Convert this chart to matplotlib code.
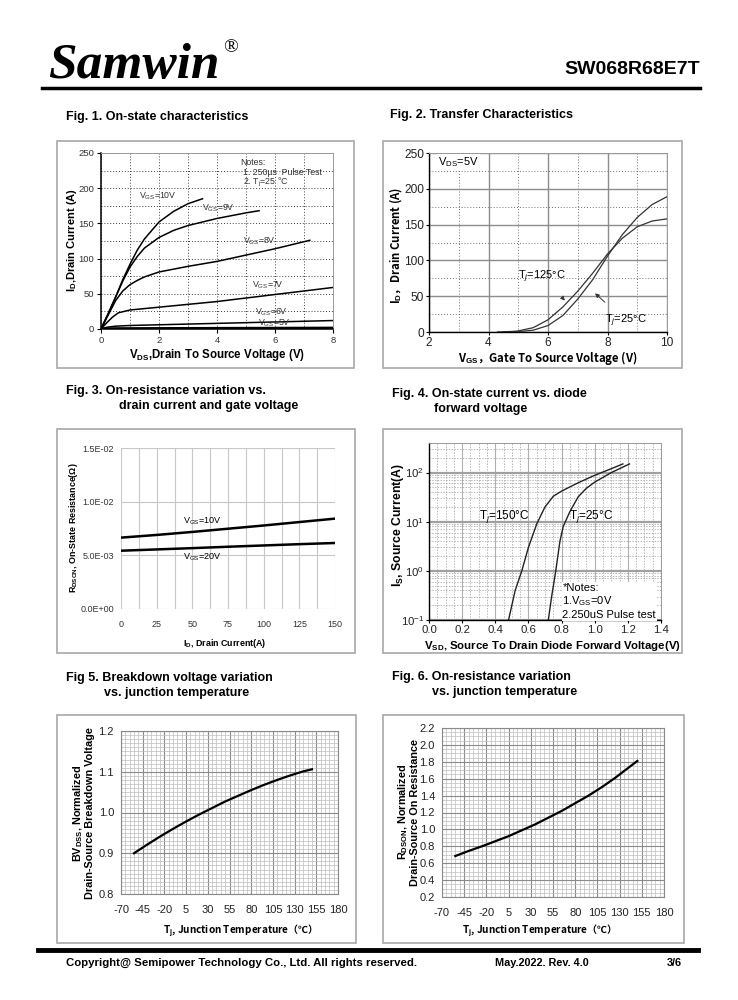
import matplotlib
matplotlib.use("Agg")
import matplotlib.pyplot as plt
from matplotlib.patches import Rectangle
from matplotlib.ticker import MultipleLocator, LogLocator, NullFormatter

plt.rcParams['font.family'] = ['Liberation Sans', 'DejaVu Sans']
plt.rcParams['mathtext.fontset'] = 'custom'
plt.rcParams['mathtext.rm'] = 'Liberation Sans'
plt.rcParams['mathtext.it'] = 'Liberation Sans:italic'
plt.rcParams['mathtext.bf'] = 'Liberation Sans:bold'
plt.rcParams['axes.unicode_minus'] = False

# ---- Fig 1 data: on-state characteristics
vds_10 = [0, 0.25, 0.5, 0.75, 1.0, 1.25, 1.5, 2.0, 2.5, 3.0, 3.5]
id_10 = [0, 22, 45, 70, 92, 112, 128, 152, 167, 178, 185]
vds_9 = [0, 0.25, 0.5, 0.75, 1.0, 1.25, 1.5, 2.0, 2.5, 3.0, 3.5, 4.0, 4.5, 5.0, 5.45]
id_9 = [0, 22, 45, 68, 88, 103, 115, 130, 140, 147, 152, 157, 161, 165, 168]
vds_8 = [0, 0.25, 0.5, 0.75, 1.0, 1.25, 1.5, 2.0, 2.5, 3.0, 4.0, 5.0, 6.0, 7.2]
id_8 = [0, 20, 40, 54, 63, 69, 74, 81, 85, 89, 96, 105, 114, 126]
vds_7 = [0, 0.2, 0.4, 0.6, 0.8, 1.0, 2.0, 3.0, 4.0, 5.0, 6.0, 7.0, 8.0]
id_7 = [0, 9, 17, 23, 25, 27, 31, 35, 39, 44, 49, 54, 59]
vds_6 = [0, 0.2, 0.5, 1, 2, 4, 6, 8]
id_6 = [0, 2.5, 4, 5, 6, 8, 10, 12]
vds_5 = [0, 0.5, 2, 4, 6, 8]
id_5 = [0, 0.4, 0.6, 0.8, 1.0, 1.2]

# ---- Fig 2 data: transfer characteristics
vgs_125 = [4.3, 4.8, 5.0, 5.5, 6.0, 6.5, 7.0, 7.5, 8.0, 8.5, 9.0, 9.5, 10.0]
id_125 = [0, 0.8, 1.5, 6, 17, 35, 57, 82, 109, 131, 147, 155, 158]
vgs_25 = [4.5, 5.0, 5.5, 6.0, 6.5, 7.0, 7.5, 8.0, 8.5, 9.0, 9.5, 10.0]
id_25 = [0, 0.5, 2.5, 9, 23, 46, 73, 106, 136, 160, 178, 189]

# ---- Fig 3 data: on-resistance vs drain current
id_r = [0, 25, 50, 75, 100, 125, 150]
r_10 = [0.00665, 0.00690, 0.00718, 0.00748, 0.00778, 0.00810, 0.00842]
r_20 = [0.00543, 0.00555, 0.00567, 0.00580, 0.00592, 0.00604, 0.00615]

# ---- Fig 4 data: diode forward characteristics
vsd_150 = [0.48, 0.52, 0.56, 0.60, 0.65, 0.70, 0.75, 0.80, 0.90, 1.00, 1.10, 1.17]
is_150 = [0.1, 0.4, 1.0, 3.0, 9, 20, 33, 42, 62, 88, 120, 150]
vsd_25 = [0.72, 0.74, 0.765, 0.79, 0.81, 0.85, 0.90, 0.95, 1.00, 1.10, 1.21]
is_25 = [0.1, 0.3, 1.0, 4, 8, 16, 32, 48, 64, 100, 150]

# ---- Fig 5 / 6 data: normalized vs junction temperature
tj = [-55, -40, -25, -10, 5, 20, 35, 50, 65, 80, 95, 110, 125, 140, 150]
bv_norm = [0.900, 0.921, 0.941, 0.960, 0.978, 0.995, 1.011, 1.027, 1.041,
           1.055, 1.068, 1.080, 1.091, 1.101, 1.106]
rds_norm = [0.685, 0.745, 0.80, 0.86, 0.92, 0.99, 1.06, 1.14, 1.22,
            1.31, 1.40, 1.50, 1.61, 1.73, 1.81]
temp_ticks = [-70, -45, -20, 5, 30, 55, 80, 105, 130, 155, 180]

W, H = 738, 1000
fig = plt.figure(figsize=(7.38, 10), dpi=100)


def px_ax(l, t, r, b):
    return fig.add_axes([l / W, 1 - b / H, (r - l) / W, (b - t) / H])


def px_text(x, y, s, **kw):
    fig.text(x / W, 1 - y / H, s, **kw)


def box(l, t, r, b):
    fig.patches.append(Rectangle((l / W, 1 - b / H), (r - l) / W, (b - t) / H,
                                 transform=fig.transFigure, fill=False,
                                 ec='#a8a8a8', lw=1.2))


def hline(x0, x1, y, lw):
    fig.add_artist(plt.Line2D([x0 / W, x1 / W], [1 - y / H, 1 - y / H],
                              transform=fig.transFigure, color='black', lw=lw))


# header / footer
px_text(48, 78, 'Samwin', family='Liberation Serif', weight='bold',
        style='italic', fontsize=37, va='baseline')
px_text(223, 52, '®', family='Liberation Serif', fontsize=14, va='baseline')
px_text(700, 74, 'SW068R68E7T', weight='bold', fontsize=14, ha='right',
        va='baseline')
hline(42, 700, 88, 2.5)
hline(38, 698, 950, 3.5)
px_text(66, 966, 'Copyright@ Semipower Technology Co., Ltd. All rights reserved.',
        weight='bold', fontsize=8.2, va='baseline')
px_text(495, 966, 'May.2022. Rev. 4.0', weight='bold', fontsize=7.8, va='baseline')
px_text(682, 966, '3/6', weight='bold', fontsize=7.8, va='baseline', ha='right')

# titles
tkw = dict(weight='bold', fontsize=9, va='baseline')
px_text(66, 120, 'Fig. 1. On-state characteristics', **tkw)
px_text(390, 118, 'Fig. 2. Transfer Characteristics', **tkw)
px_text(66, 394, 'Fig. 3. On-resistance variation vs.', **tkw)
px_text(119, 409, 'drain current and gate voltage', **tkw)
px_text(392, 397, 'Fig. 4. On-state current vs. diode', **tkw)
px_text(434, 412, 'forward voltage', **tkw)
px_text(66, 681, 'Fig 5. Breakdown voltage variation', **tkw)
px_text(104, 696, 'vs. junction temperature', **tkw)
px_text(392, 680, 'Fig. 6. On-resistance variation', **tkw)
px_text(432, 695, 'vs. junction temperature', **tkw)

# panel frames
box(57, 141, 354, 368)
box(383, 141, 682, 368)
box(57, 429, 355, 653)
box(383, 429, 682, 653)
box(57, 715, 356, 943)
box(383, 715, 684, 943)


def style_spines(ax, dark=('left', 'bottom'), lw=1.0):
    for s in ax.spines:
        if s in dark:
            ax.spines[s].set_color('black')
            ax.spines[s].set_linewidth(lw)
        else:
            ax.spines[s].set_color('#9a9a9a')
            ax.spines[s].set_linewidth(0.7)


# ---------------- Fig 1
ax1 = px_ax(101, 153, 333, 329)
for v, i in [(vds_10, id_10), (vds_9, id_9), (vds_8, id_8), (vds_7, id_7),
             (vds_6, id_6), (vds_5, id_5)]:
    ax1.plot(v, i, color='black', lw=1.1)
ax1.plot(vds_5, id_5, color='black', lw=2.2)
ax1.set_xlim(0, 8)
ax1.set_ylim(0, 250)
ax1.xaxis.set_major_locator(MultipleLocator(2))
ax1.xaxis.set_minor_locator(MultipleLocator(1))
ax1.yaxis.set_major_locator(MultipleLocator(50))
ax1.yaxis.set_minor_locator(MultipleLocator(25))
ax1.grid(which='both', ls=(0, (1, 2)), color='#404040', lw=0.7)
ax1.tick_params(which='minor', length=0)
ax1.tick_params(which='major', length=3, labelsize=6.8, labelcolor='#333333', pad=2)
style_spines(ax1, lw=1.1)
lkw = dict(fontsize=6.3, color='#333333', ha='left', va='center')
ax1.text(1.3, 188, r'V$_{\mathrm{GS}}$=10V', **lkw)
ax1.text(3.5, 172, r'V$_{\mathrm{GS}}$=9V', **lkw)
ax1.text(4.9, 125, r'V$_{\mathrm{GS}}$=8V', **lkw)
ax1.text(5.2, 62, r'V$_{\mathrm{GS}}$=7V', **lkw)
ax1.text(5.3, 24, r'V$_{\mathrm{GS}}$=6V', **lkw)
ax1.text(5.4, 8, r'V$_{\mathrm{GS}}$=5V', **lkw)
ax1.text(4.8, 236, 'Notes:', **lkw)
ax1.text(4.9, 222, '1. 250µs  Pulse Test', **lkw)
ax1.text(4.9, 208, r'2. T$_{\mathrm{j}}$=25 °C', **lkw)
px_text(72, 240, r'I$_{\mathbf{D}}$,Drain Current (A)', weight='bold', fontsize=8,
        rotation=90, ha='center', va='center')
px_text(217, 355, r'V$_{\mathbf{DS}}$,Drain To Source Voltage (V)', weight='bold',
        fontsize=8.3, ha='center', va='center')

# ---------------- Fig 2
ax2 = px_ax(429, 153, 667, 332)
ax2.plot(vgs_125, id_125, color='#333333', lw=0.9)
ax2.plot(vgs_25, id_25, color='#333333', lw=0.9)
ax2.set_xlim(2, 10)
ax2.set_ylim(0, 250)
ax2.xaxis.set_major_locator(MultipleLocator(2))
ax2.xaxis.set_minor_locator(MultipleLocator(1))
ax2.yaxis.set_major_locator(MultipleLocator(50))
ax2.yaxis.set_minor_locator(MultipleLocator(25))
ax2.grid(which='major', ls='-', color='#8c8c8c', lw=1.0)
ax2.grid(which='minor', ls=(0, (1, 2)), color='#707070', lw=0.7)
ax2.tick_params(which='minor', length=0)
ax2.tick_params(which='major', length=2.5, labelsize=8.6, labelcolor='#222222', pad=1)
style_spines(ax2, lw=1.0)
ax2.text(2.3, 237, r'V$_{\mathrm{DS}}$=5V', fontsize=8, ha='left', va='center',
         bbox=dict(fc='white', ec='none', pad=1))
ax2.annotate(r'T$_{\mathit{j}}$=125°C', xy=(6.57, 44), xytext=(5.0, 77),
             fontsize=8, ha='left', va='center',
             arrowprops=dict(arrowstyle='-|>', color='#333333', lw=0.7,
                             mutation_scale=6, shrinkA=10, shrinkB=0))
ax2.annotate(r'T$_{\mathit{j}}$=25°C', xy=(7.58, 54), xytext=(7.9, 16),
             fontsize=8, ha='left', va='center',
             arrowprops=dict(arrowstyle='-|>', color='#333333', lw=0.7,
                             mutation_scale=6, shrinkA=8, shrinkB=0))
fcjk = ['Noto Sans CJK SC', 'DejaVu Sans']
px_text(396, 245, r'I$_{\mathbf{D}}$，Drain Current (A)', family=fcjk, weight='bold',
        fontsize=8.2, rotation=90, ha='center', va='center')
px_text(548, 358, r'V$_{\mathbf{GS}}$，Gate To Source Voltage (V)', family=fcjk,
        weight='bold', fontsize=8.2, ha='center', va='center')

# ---------------- Fig 3
ax3 = px_ax(121, 448, 335, 609)
ax3.plot(id_r, r_10, color='black', lw=1.8)
ax3.plot(id_r, r_20, color='black', lw=1.8)
ax3.set_xlim(0, 150)
ax3.set_ylim(0, 0.015)
ax3.set_xticks([0, 25, 50, 75, 100, 125, 150])
ax3.xaxis.set_minor_locator(MultipleLocator(12.5))
ax3.set_yticks([0, 0.005, 0.01, 0.015])
ax3.set_yticklabels(['0.0E+00', '5.0E-03', '1.0E-02', '1.5E-02'])
ax3.grid(which='both', color='#c8c8c8', lw=0.8)
ax3.set_axisbelow(True)
for s in ax3.spines.values():
    s.set_visible(False)
ax3.tick_params(which='both', length=0, labelsize=6.5, labelcolor='#333333', pad=5)
ax3.tick_params(axis='x', pad=8)
ax3.text(57, 0.00817, r'V$_{\mathrm{GS}}$=10V', fontsize=6.5, ha='center', va='center')
ax3.text(57, 0.0048, r'V$_{\mathrm{GS}}$=20V', fontsize=6.5, ha='center', va='center')
px_text(73, 528, r'R$_{\mathbf{DSON}}$, On-State Resistance(Ω)', weight='bold',
        fontsize=6.4, rotation=90, ha='center', va='center')
px_text(225, 644, r'I$_{\mathbf{D}}$, Drain Current(A)', weight='bold', fontsize=6.4,
        ha='center', va='center')

# ---------------- Fig 4
ax4 = px_ax(429, 443, 661, 620)
ax4.plot(vsd_150, is_150, color='#222222', lw=1.0)
ax4.plot(vsd_25, is_25, color='#222222', lw=1.0)
ax4.set_yscale('log')
ax4.set_xlim(0, 1.4)
ax4.set_ylim(0.1, 400)
ax4.xaxis.set_minor_locator(MultipleLocator(0.05))
ax4.yaxis.set_major_locator(LogLocator(base=10, numticks=10))
ax4.yaxis.set_minor_locator(LogLocator(base=10, subs=range(2, 10), numticks=10))
ax4.yaxis.set_minor_formatter(NullFormatter())
ax4.grid(which='major', axis='y', ls='-', color='#a0a0a0', lw=1.6)
ax4.grid(which='major', axis='x', ls='-', color='#b0b0b0', lw=0.8)
ax4.grid(which='minor', ls=(0, (2, 2)), color='#9a9a9a', lw=0.5)
ax4.tick_params(which='minor', length=0)
ax4.tick_params(which='major', length=2.5, labelsize=8.2, labelcolor='#222222', pad=1)
ax4.set_xticks([0, 0.2, 0.4, 0.6, 0.8, 1.0, 1.2, 1.4])
ax4.set_xticklabels(['0.0', '0.2', '0.4', '0.6', '0.8', '1.0', '1.2', '1.4'])
style_spines(ax4, lw=1.0)
ax4.text(0.455, 12.6, r'T$_{\mathit{j}}$=150°C', fontsize=8.5, ha='center', va='center')
ax4.text(0.98, 12.6, r'T$_{\mathit{j}}$=25°C', fontsize=8.5, ha='center', va='center')
ax4.text(0.805, 0.24, '*Notes:\n' + r'1.V$_{\mathrm{GS}}$=0V' + '\n2.250uS Pulse test',
         fontsize=8, ha='left', va='center', linespacing=1.2,
         bbox=dict(fc='white', ec='none', pad=0.5))
px_text(398, 525, r'I$_{\mathbf{S}}$, Source Current(A)', weight='bold', fontsize=8.8,
        rotation=90, ha='center', va='center')
px_text(552, 646, r'V$_{\mathbf{SD}}$, Source To Drain Diode Forward Voltage(V)',
        weight='bold', fontsize=8.2, ha='center', va='center')


# ---------------- Fig 5 & 6
def temp_axes(ax, ymin, ymax, ystep, yminor, yfmt):
    ax.set_xlim(-70, 180)
    ax.set_ylim(ymin, ymax)
    ax.set_xticks(temp_ticks)
    ax.xaxis.set_minor_locator(MultipleLocator(5))
    ax.yaxis.set_major_locator(MultipleLocator(ystep))
    ax.yaxis.set_minor_locator(MultipleLocator(yminor))
    ax.yaxis.set_major_formatter(yfmt)
    ax.grid(which='major', color='#8a8a8a', lw=0.8)
    ax.grid(which='minor', color='#bdbdbd', lw=0.5)
    ax.set_axisbelow(True)
    ax.tick_params(which='both', length=0, labelsize=8, labelcolor='#222222', pad=5)
    ax.tick_params(axis='x', pad=8)
    for s in ax.spines.values():
        s.set_color('#8a8a8a')
        s.set_linewidth(0.8)


ax5 = px_ax(121, 731, 338, 894)
ax5.plot(tj, bv_norm, color='black', lw=1.6)
temp_axes(ax5, 0.8, 1.2, 0.1, 0.01, '{x:.1f}')
px_text(83, 813, r'BV$_{\mathbf{DSS}}$, Normalized' + '\nDrain-Source Breakdown Voltage',
        weight='bold', fontsize=7.8, rotation=90, ha='center', va='center',
        linespacing=1.0)
px_text(238, 931, r'T$_{\mathbf{j}}$, Junction Temperature（℃）', family=fcjk,
        weight='bold', fontsize=7.2, ha='center', va='center')

ax6 = px_ax(442, 728, 664, 897)
ax6.plot(tj, rds_norm, color='black', lw=1.6)
temp_axes(ax6, 0.2, 2.2, 0.2, 0.05, '{x:.1f}')
px_text(408, 812, r'R$_{\mathbf{DSON}}$, Normalized' + '\nDrain-Source On Resistance',
        weight='bold', fontsize=7.8, rotation=90, ha='center', va='center',
        linespacing=1.0)
px_text(537, 931, r'T$_{\mathbf{j}}$, Junction Temperature（℃）', family=fcjk,
        weight='bold', fontsize=7.2, ha='center', va='center')

fig.savefig('out.png', dpi=100)
